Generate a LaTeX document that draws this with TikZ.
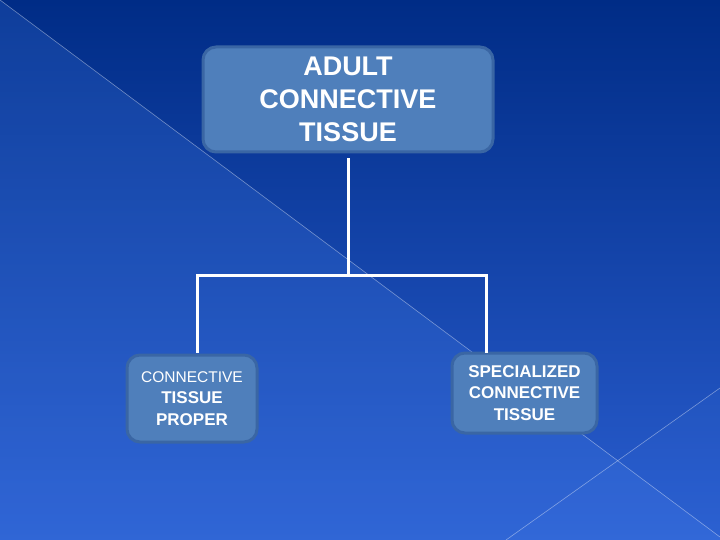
\documentclass[tikz,border=0pt]{standalone}
\usepackage{fontspec}
\setmainfont{Liberation Sans}
\usetikzlibrary{positioning}
\definecolor{bgtop}{HTML}{002C86}
\definecolor{bgbot}{HTML}{2A5ED0}
\definecolor{bglight}{HTML}{4A86F0}
\definecolor{boxfill}{HTML}{4F7FBB}
\definecolor{boxline}{HTML}{3A66A4}
\tikzset{
  box/.style={ draw=boxline, fill=boxfill, line width=3pt, rounded corners=13pt, text=white, align=center, inner sep=0pt }
}
\tikzset{
  link/.style={ draw=white, line width=3pt }
}
\tikzset{
  streak/.style={ draw=white, opacity=0.4, line width=0.6pt }
}

\begin{document}
\begin{tikzpicture}[x=1pt, y=-1pt]
      \useasboundingbox (0, 0) rectangle (720, 540);
      % background
      \shade[top color=bgtop, bottom color=bgbot] (0, 0) rectangle (720, 540);
      \fill[bglight, opacity=0.2] (0, 0) -- (720, 537) -- (720, 540) -- (0, 540) -- cycle;
      \fill[bglight, opacity=0.08] (720, 388) -- (506, 540) -- (720, 540) -- cycle;
      \draw[streak] (0, 0) -- (720, 537);
      \draw[streak] (720, 388) -- (506, 540);

      \node[box, minimum width=290pt, minimum height=105pt,
            font=\bfseries\fontsize{27}{33}\selectfont] (top) at (348, 99.5)
            {ADULT\\CONNECTIVE\\TISSUE};
      \node[box, minimum width=130pt, minimum height=87pt,
            font=\fontsize{17}{21.5}\selectfont] (proper) at (192, 398.5)
            {{\fontsize{15.5}{21.5}\selectfont CONNECTIVE}\\\textbf{TISSUE}\\\textbf{PROPER}};
      \node[box, minimum width=145pt, minimum height=80pt,
            font=\bfseries\fontsize{17}{21.5}\selectfont] (special) at (524.5, 393)
            {SPECIALIZED\\CONNECTIVE\\TISSUE};

      \coordinate (split) at (348, 275);
      \coordinate (dropL) at (197, 353);
      \coordinate (dropR) at (486, 353);

      \draw[link, shorten <=5pt] (top.south) -- (split);
      \draw[link] (dropL) |- (split) -| (dropR);
    \end{tikzpicture}
\end{document}
